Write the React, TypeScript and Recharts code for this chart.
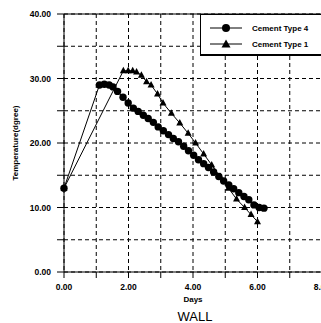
import { LineChart, Line, XAxis, YAxis, CartesianGrid, ReferenceLine } from 'recharts';

// Cement Type 4 (circles)
const type4Days = [0, 1.1, 1.25, 1.4, 1.52, 1.66, 1.83, 1.99, 2.15, 2.3, 2.46, 2.61, 2.77, 2.92, 3.08, 3.24, 3.39, 3.55, 3.71, 3.86, 4.02, 4.17, 4.33, 4.48, 4.64, 4.8, 4.95, 5.11, 5.26, 5.42, 5.58, 5.73, 5.89, 6.05, 6.2];
const type4Temps = [13.0, 29.0, 29.1, 29.0, 28.7, 28.0, 27.1, 26.2, 25.4, 24.9, 24.3, 23.8, 23.2, 22.5, 21.9, 21.3, 20.7, 20.2, 19.5, 18.8, 18.1, 17.4, 16.8, 16.2, 15.5, 14.8, 14.1, 13.5, 12.9, 12.3, 11.7, 11.2, 10.4, 10.0, 9.9];

// Cement Type 1 (triangles)
const type1Days = [0, 1.84, 1.99, 2.13, 2.25, 2.4, 2.56, 2.7, 2.9, 3.07, 3.33, 3.59, 3.85, 4.08, 4.33, 4.58, 4.84, 5.1, 5.35, 5.6, 5.8, 6.0];
const type1Temps = [13.0, 31.2, 31.2, 31.2, 31.0, 30.5, 29.5, 29.0, 27.6, 26.2, 24.6, 23.1, 21.5, 20.0, 18.3, 16.6, 14.8, 13.0, 11.3, 10.0, 8.9, 7.8];

const seriesNames = ['Cement Type 4', 'Cement Type 1'];
const xTicks = [0, 1, 2, 3, 4, 5, 6, 7, 8];
const yTicks = [0, 5, 10, 15, 20, 25, 30, 35, 40];

const type4 = type4Days.map((x, i) => ({ x, y: type4Temps[i] }));
const type1 = type1Days.map((x, i) => ({ x, y: type1Temps[i] }));

const font = '"Liberation Sans", Arial, sans-serif';
const tickStyle = { fontSize: 8.5, fontWeight: 'bold', fill: '#000', fontFamily: font };

const TriangleDot = (props: any) => {
  const { cx, cy, index } = props;
  if (cx == null || cy == null) return <g key={index} />;
  return <polygon key={index} points={`${cx},${cy - 4} ${cx - 3.5},${cy + 2.5} ${cx + 3.5},${cy + 2.5}`} fill="#000" />;
};

// legend drawn as a box over the top right of the plot
const LegendBox = () => (
  <div
    style={{
      position: 'absolute',
      left: 200,
      top: 14,
      width: 140,
      height: 39,
      border: '1px solid #000',
      borderBottomWidth: 2,
      background: '#fff',
      fontFamily: font,
      fontWeight: 'bold',
      fontSize: 8,
      color: '#000',
    }}
  >
    {seriesNames.map((name, i) => (
      <div key={name} style={{ position: 'absolute', left: 9, top: 6 + i * 16, height: 14, display: 'flex', alignItems: 'center' }}>
        <svg width={32} height={12}>
          <line x1={0} y1={6} x2={32} y2={6} stroke="#000" strokeWidth={1} />
          {i === 0 ? (
            <circle cx={16} cy={6} r={4} fill="#000" />
          ) : (
            <polygon points="16,1.5 11.5,9.5 20.5,9.5" fill="#000" />
          )}
        </svg>
        <span style={{ marginLeft: 10 }}>{name}</span>
      </div>
    ))}
  </div>
);

export default function App() {
  return (
    <div style={{ position: 'absolute', left: 0, top: 0, width: 321, height: 323, overflow: 'hidden', background: '#fff' }}>
      <LineChart width={345} height={323} margin={{ top: 14, right: 23, bottom: 16, left: 0 }}>
        <CartesianGrid stroke="#000" strokeDasharray="4 3" strokeWidth={1} />
        <XAxis
          dataKey="x"
          type="number"
          domain={[0, 8]}
          ticks={xTicks}
          interval={0}
          height={35}
          tickSize={6}
          tickMargin={6}
          stroke="#000"
          tick={tickStyle}
          tickFormatter={(v: number) => (v % 2 === 0 ? v.toFixed(2) : '')}
          label={{ value: 'Days', position: 'insideBottom', offset: 5, style: { fontSize: 8, fontWeight: 'bold', fill: '#000', fontFamily: font } }}
        />
        <YAxis
          type="number"
          domain={[0, 40]}
          ticks={yTicks}
          interval={0}
          width={64}
          tickSize={7}
          tickMargin={6}
          stroke="#000"
          tick={tickStyle}
          tickFormatter={(v: number) => (v % 10 === 0 ? v.toFixed(2) : '')}
          label={{ value: 'Temperature(dgree)', angle: -90, position: 'insideLeft', offset: 15, style: { textAnchor: 'middle', fontSize: 8, fontWeight: 'bold', fill: '#000', fontFamily: font } }}
        />
        <ReferenceLine y={40} stroke="#000" strokeWidth={1} />
        <Line
          data={type4}
          dataKey="y"
          name={seriesNames[0]}
          type="linear"
          stroke="#000"
          strokeWidth={1}
          dot={{ r: 3.7, fill: '#000', stroke: '#000', strokeWidth: 0 }}
          isAnimationActive={false}
        />
        <Line
          data={type1}
          dataKey="y"
          name={seriesNames[1]}
          type="linear"
          stroke="#000"
          strokeWidth={1}
          dot={TriangleDot}
          isAnimationActive={false}
        />
      </LineChart>
      <LegendBox />
      <div style={{ position: 'absolute', left: 0, top: 309, width: 390, textAlign: 'center', fontFamily: font, fontSize: 13, color: '#000' }}>
        WALL
      </div>
    </div>
  );
}
